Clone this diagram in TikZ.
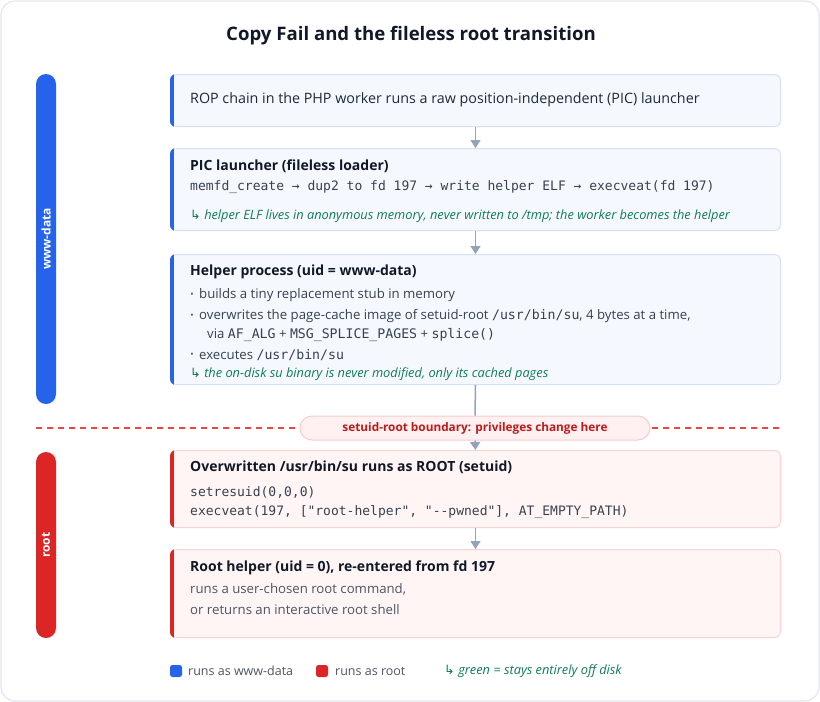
\documentclass[tikz,border=0pt]{standalone}
\usepackage{fontspec}
\setmainfont{Open Sans}
\setmonofont{DejaVu Sans Mono}
\newfontfamily\symfont{DejaVu Sans}
\usetikzlibrary{arrows.meta}
\definecolor{bluec}{HTML}{2563EB}
\definecolor{redc}{HTML}{DC2626}
\definecolor{bfill}{HTML}{F5F8FF}
\definecolor{bborder}{HTML}{D6E0FA}
\definecolor{rfill}{HTML}{FFF5F5}
\definecolor{rborder}{HTML}{FAD4D4}
\definecolor{arrowgrey}{HTML}{94A3B8}
\definecolor{titlec}{HTML}{111827}
\definecolor{darkc}{HTML}{1F2937}
\definecolor{bodyc}{HTML}{374151}
\definecolor{greyc}{HTML}{4B5563}
\definecolor{greenc}{HTML}{0F7B5A}
\definecolor{dashc}{HTML}{EF4444}
\definecolor{pillfill}{HTML}{FFF1F1}
\definecolor{pillborder}{HTML}{FBCACA}
\definecolor{pilltext}{HTML}{B91C1C}
\definecolor{framec}{HTML}{E2E8F0}
\newcommand\accentbar[2]{%
  \begin{scope}
    \clip[rounded corners=6pt] (#1.south west) rectangle (#1.north east);
    \fill[#2] (#1.south west) rectangle ([xshift=4pt]#1.north west);
  \end{scope}}
\begin{document}
\begin{tikzpicture}[x=1pt,y=-1pt,
  box/.style={draw, line width=1pt, rounded corners=6pt, minimum width=610pt, anchor=north west, inner sep=0pt},
  bbox/.style={box, fill=bfill, draw=bborder},
  rbox/.style={box, fill=rfill, draw=rborder},
  lane/.style={rounded corners=10pt, minimum height=20pt, inner sep=0pt, rotate=90, text=white, font=\bfseries\fontsize{12}{14}\selectfont},
  ttl/.style={anchor=west, inner sep=0pt, text=titlec, font=\bfseries\fontsize{14}{16}\selectfont},
  plain/.style={anchor=west, inner sep=0pt, text=darkc, font=\fontsize{14.3}{16}\selectfont},
  body/.style={anchor=west, inner sep=0pt, text=bodyc, font=\fontsize{13.2}{15}\selectfont},
  code/.style={anchor=west, inner sep=0pt, text=bodyc, font=\ttfamily\fontsize{13}{15}\selectfont},
  note/.style={anchor=west, inner sep=0pt, text=greenc, font=\itshape\fontsize{12.8}{14}\selectfont},
  bul/.style={anchor=center, inner sep=0pt, text=greyc, font=\fontsize{9}{10}\selectfont},
  arr/.style={draw=arrowgrey, line width=1.5pt, -{Triangle[width=10pt,length=8pt]}},
  conn/.style={draw=arrowgrey, line width=1.5pt},
  dashline/.style={draw=dashc, line width=1.2pt, dash pattern=on 6pt off 5pt},
  pill/.style={rounded corners=12pt, fill=pillfill, draw=pillborder, line width=1pt, minimum width=350pt, minimum height=24pt, inner sep=0pt, text=pilltext, font=\bfseries\fontsize{11.8}{14}\selectfont},
  legsq/.style={minimum size=12pt, inner sep=0pt, rounded corners=2.5pt},
  legtext/.style={anchor=west, inner sep=0pt, text=greyc, font=\fontsize{12.5}{14}\selectfont}
]
\useasboundingbox (0,0) rectangle (820,702);
\draw[framec, line width=1.2pt, rounded corners=14pt, fill=white] (1,1) rectangle (819,701);

\node[text=titlec, font=\bfseries\fontsize{18.6}{22}\selectfont] (title) at (411,36) {Copy Fail and the fileless root transition};

% lanes
\node[lane, fill=bluec, minimum width=330pt] (lanew) at (46,239) {www-data};
\node[lane, fill=redc, minimum width=186pt] (laner) at (46,545) {root};

% boundary
\coordinate (dl) at (36,428);
\coordinate (dr) at (780,428);
\draw[dashline] (dl) -- (dr);

% boxes
\node[bbox, minimum height=52pt] (b1) at (170,74) {};
\accentbar{b1}{bluec}
\node[plain] (t1) at (190,100) {ROP chain in the PHP worker runs a raw position-independent (PIC) launcher};

\node[bbox, minimum height=82pt] (b2) at (170,148) {};
\accentbar{b2}{bluec}
\node[ttl] (t2) at (190,166) {PIC launcher (fileless loader)};
\node[code] (c2) at (190,187) {memfd\_create → dup2 to fd 197 → write helper ELF → execveat(fd 197)};
\node[note] (n2) at (190,216) {{\symfont\upshape ↳} helper ELF lives in anonymous memory, never written to /tmp; the worker becomes the helper};

\node[bbox, minimum height=130pt] (b3) at (170,254) {};
\accentbar{b3}{bluec}
\node[ttl] (t3) at (190,272) {Helper process (uid = www-data)};
\node[bul] (u1) at (192,295) {•};
\node[body] (l1) at (199,295) {builds a tiny replacement stub in memory};
\node[bul] (u2) at (192,316) {•};
\node[body] (l2) at (199,316) {overwrites the page-cache image of setuid-root \texttt{/usr/bin/su}, 4 bytes at a time,};
\node[body] (l2b) at (207,335) {via \texttt{AF\_ALG} + \texttt{MSG\_SPLICE\_PAGES} + \texttt{splice()}};
\node[bul] (u3) at (192,355) {•};
\node[body] (l3) at (199,355) {executes \texttt{/usr/bin/su}};
\node[note] (n3) at (190,374) {{\symfont\upshape ↳} the on-disk su binary is never modified, only its cached pages};

\node[pill] (pill) at (475,428) {setuid-root boundary: privileges change here};

\node[rbox, minimum height=77pt] (b4) at (170,450) {};
\accentbar{b4}{redc}
\node[ttl] (t4) at (190,467) {Overwritten /usr/bin/su runs as ROOT (setuid)};
\node[code] (c4a) at (190,492) {setresuid(0,0,0)};
\node[code] (c4b) at (190,512) {execveat(197, ["root-helper", "--pwned"], AT\_EMPTY\_PATH)};

\node[rbox, minimum height=88pt] (b5) at (170,549) {};
\accentbar{b5}{redc}
\node[ttl] (t5) at (190,568) {Root helper (uid = 0), re-entered from fd 197};
\node[body, text=greyc] (l5a) at (190,589) {runs a user-chosen root command,};
\node[body, text=greyc] (l5b) at (190,610) {or returns an interactive root shell};

% connectors
\draw[arr] (b1.south) -- (b2.north);
\draw[arr] (b2.south) -- (b3.north);
\draw[conn] (b3.south) -- (pill.north);
\draw[arr] (pill.south) -- (b4.north);
\draw[arr] (b4.south) -- (b5.north);

% legend
\node[legsq, fill=bluec] (lg1) at (176,671) {};
\node[legtext] (lt1) at (188,671) {runs as www-data};
\node[legsq, fill=redc] (lg2) at (322,671) {};
\node[legtext] (lt2) at (335,671) {runs as root};
\node[note] (lt3) at (444,671) {{\symfont\upshape ↳} green = stays entirely off disk};
\end{tikzpicture}
\end{document}
